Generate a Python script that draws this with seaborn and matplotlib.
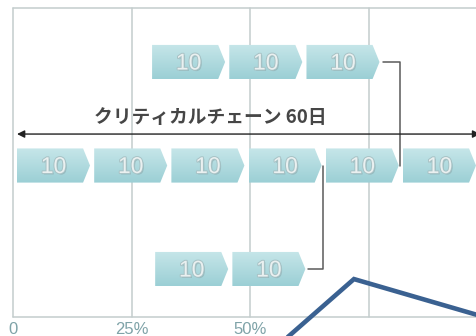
import numpy as np
import pandas as pd
import seaborn as sns
import matplotlib
matplotlib.use("Agg")
import matplotlib.pyplot as plt
from matplotlib.patches import Polygon
import matplotlib.patheffects as pe
from matplotlib.colors import LinearSegmentedColormap

# ---------------- data ----------------
critical_durations = [10, 10, 10, 10, 10, 10]
critical_start = 0.0
top_durations = [10, 10, 10]
top_start = 17.5
top_join_day = 50
bottom_durations = [10, 10]
bottom_start = 17.9
bottom_join_day = 40
chain_label = "クリティカルチェーン 60日"
chain_total_days = 60
grid_pcts = [0, 25, 50, 75]
tick_pcts = [0, 25, 50]
tick_labels = ["0", "25%", "50%"]
pct_origin_day = -0.48
pct_full_days = 61.4
blue_x = [33.9, 43.65, 61.3]
blue_y = [2.734, 2.097, 2.48]

# ---------------- style ----------------
sns.set_theme(style="white")
plt.rcParams["font.family"] = ["Liberation Sans", "DejaVu Sans"]

fig = plt.figure(figsize=(4.77, 3.36), dpi=100)
ax = fig.add_axes([0, 0, 1, 1])
XL = (-2.202, 59.59)
YL = (2.647, -0.599)
ax.set_xlim(*XL)
ax.set_ylim(*YL)
ax.axis("off")

H = 0.33      # shape height (rows)
GAP = 0.54    # gap between shapes (days)
TIP = 0.9     # arrow tip length (days)
cmap = LinearSegmentedColormap.from_list("g", ["#c6e6e9", "#9bcfd5"])
grad = np.linspace(0, 1, 64).reshape(-1, 1)


def pct_to_day(p):
    return pct_origin_day + p / 100.0 * pct_full_days


frame_top, frame_bottom = -0.522, 2.464
grid_col = "#c3cdcd"
# frame + gridlines
for p in grid_pcts:
    ax.plot([pct_to_day(p)] * 2, [frame_top, frame_bottom], color=grid_col, lw=1.1, zorder=1)
ax.plot([pct_to_day(0), XL[1] + 5], [frame_top] * 2, color=grid_col, lw=1.1, zorder=1)
ax.plot([pct_to_day(0), XL[1] + 5], [frame_bottom] * 2, color=grid_col, lw=1.1, zorder=1)

for p, lab in zip(tick_pcts, tick_labels):
    ax.text(pct_to_day(p), 2.512, lab, ha="center", va="top", fontsize=12,
            color="#7fa3a8", family=["Liberation Sans", "DejaVu Sans"])


def draw_chain(start, durations, row):
    x = start
    ends = []
    for d in durations:
        x0, x1 = x, x + d - GAP
        yt, yb = row - H / 2, row + H / 2
        pts = [(x0, yt), (x1 - TIP, yt), (x1, row), (x1 - TIP, yb), (x0, yb)]
        poly = Polygon(pts, closed=True, facecolor="none", edgecolor="none", zorder=3)
        ax.add_patch(poly)
        im = ax.imshow(grad, extent=[x0, x1, yb, yt], origin="upper", aspect="auto",
                       cmap=cmap, zorder=3, interpolation="bilinear")
        im.set_clip_path(poly)
        ax.text((x0 + x1) / 2, row + 0.01, str(d), ha="center", va="center",
                fontsize=16.5, color="#eaf0f0", zorder=5,
                path_effects=[pe.withSimplePatchShadow(offset=(1, -1), shadow_rgbFace="#8aa9ad", alpha=0.6),
                              pe.Stroke(linewidth=1.4, foreground="#a8c2c5"), pe.Normal()])
        x += d
        ends.append(x1)
    return ends[-1]


end_c = draw_chain(critical_start, critical_durations, 1)
end_t = draw_chain(top_start, top_durations, 0)
end_b = draw_chain(bottom_start, bottom_durations, 2)

# connectors (feeding chains into critical chain)
conn = "#5a5a5a"
jt = top_join_day - 0.35
ax.plot([end_t + 0.4, jt, jt], [0, 0, 1], color=conn, lw=1.1, zorder=4)
jb = bottom_join_day - 0.35
ax.plot([end_b + 0.4, jb, jb], [2, 2, 1], color=conn, lw=1.1, zorder=4)

ax.set_xlim(*XL)
ax.set_ylim(*YL)

# critical chain double-arrow
ay = 0.696
ax.annotate("", xy=(critical_start, ay), xytext=(critical_start + chain_total_days, ay),
            arrowprops=dict(arrowstyle="<|-|>", color="#222222", lw=1.0,
                            mutation_scale=11, shrinkA=0, shrinkB=0), zorder=4)
ax.text(25.0, 0.535, chain_label, ha="center", va="center", fontsize=13.5,
        fontweight="bold", color="#464646",
        family=["Noto Sans CJK JP", "DejaVu Sans"], zorder=5)

# overlay blue line
blue = pd.DataFrame({"x": blue_x, "y": blue_y})
sns.lineplot(data=blue, x="x", y="y", sort=False, color="#3a6191", lw=3.3, ax=ax,
             zorder=6, solid_joinstyle="miter")
ax.set_xlim(*XL)
ax.set_ylim(*YL)
ax.axis("off")

fig.savefig("out.png", dpi=100)
